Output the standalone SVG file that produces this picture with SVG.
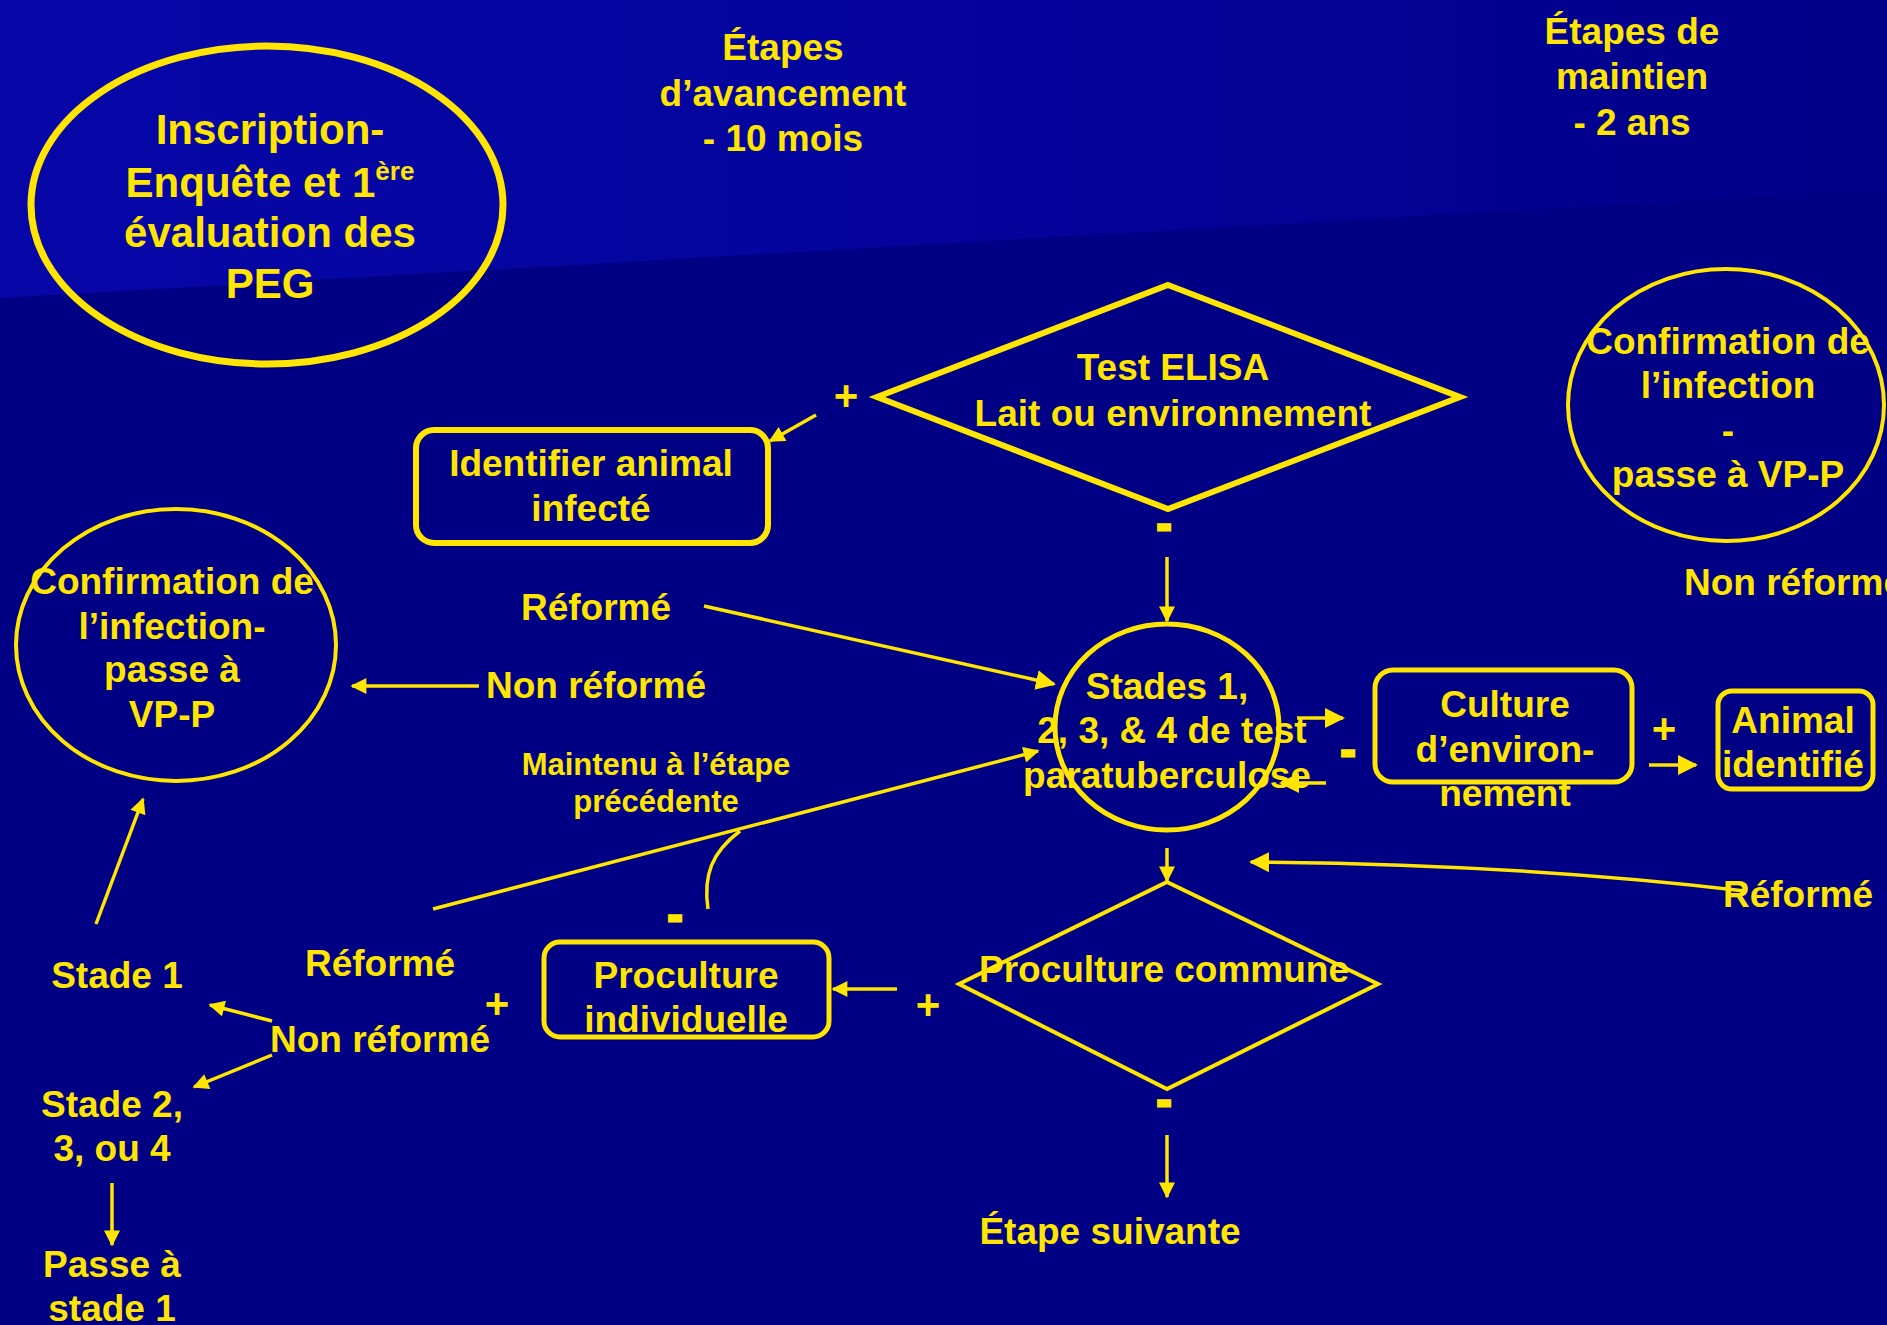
<svg xmlns="http://www.w3.org/2000/svg" width="1887" height="1325" viewBox="0 0 1887 1325">
<defs>
<linearGradient id="topg" x1="0" y1="0" x2="1" y2="0">
<stop offset="0" stop-color="#0707A8"/>
<stop offset="0.6" stop-color="#03039A"/>
<stop offset="1" stop-color="#000088"/>
</linearGradient>
<marker id="ah" viewBox="0 0 10 10" refX="9" refY="5" markerWidth="18" markerHeight="16" markerUnits="userSpaceOnUse" orient="auto">
<path d="M0,0 L10,5 L0,10 Z" fill="#FFE500"/>
</marker>
<marker id="ahb" viewBox="0 0 10 10" refX="9" refY="5" markerWidth="20" markerHeight="22" markerUnits="userSpaceOnUse" orient="auto">
<path d="M0,0 L10,5 L0,10 Z" fill="#FFE500"/>
</marker>
</defs>
<style>
text{font-family:"Liberation Sans",Arial,sans-serif;font-weight:bold;fill:#FFE500;text-anchor:middle;font-size:37px}
.big{font-size:42px}
.sm{font-size:31px}
.st{text-anchor:start}
.dash{font-size:44px;stroke:#FFE500;stroke-width:3}
.shape{fill:none;stroke:#FFE500}
.cn{fill:none;stroke:#FFE500;stroke-width:3.5}
</style>
<rect x="0" y="0" width="1887" height="1325" fill="#000084"/>
<path d="M0,0 H1887 V189 L0,298 Z" fill="url(#topg)"/>

<g id="titles">
<text x="783" y="60">Étapes</text>
<text x="783" y="106">d’avancement</text>
<text x="783" y="151">- 10 mois</text>
<text x="1632" y="44">Étapes de</text>
<text x="1632" y="89">maintien</text>
<text x="1632" y="135">- 2 ans</text>
</g>

<g id="inscription">
<ellipse class="shape" cx="267" cy="205" rx="236" ry="159" stroke-width="7"/>
<text class="big" x="270" y="144">Inscription-</text>
<text class="big" x="270" y="197">Enquête et 1<tspan font-size="26" dy="-17">ère</tspan></text>
<text class="big" x="270" y="247">évaluation des</text>
<text class="big" x="270" y="298">PEG</text>
</g>

<g id="elisa">
<polygon class="shape" points="1168,285 1460,397 1168,509 877,397" stroke-width="6"/>
<text x="1173" y="380">Test ELISA</text>
<text x="1173" y="426">Lait ou environnement</text>
</g>

<g id="identifier">
<rect class="shape" x="416" y="430" width="352" height="113" rx="18" stroke-width="6"/>
<text x="591" y="476">Identifier animal</text>
<text x="591" y="521">infecté</text>
</g>

<g id="stades">
<ellipse class="shape" cx="1167" cy="727" rx="112" ry="103" stroke-width="5"/>
<text x="1167" y="699">Stades 1,</text>
<text x="1172" y="743">2, 3, &amp; 4 de test</text>
<text x="1167" y="788">paratuberculose</text>
</g>

<g id="culture">
<rect class="shape" x="1375" y="670" width="257" height="112" rx="18" stroke-width="5"/>
<text x="1505" y="717">Culture</text>
<text x="1505" y="762">d’environ-</text>
<text x="1505" y="806">nement</text>
</g>

<g id="animal">
<rect class="shape" x="1718" y="691" width="155" height="98" rx="14" stroke-width="5"/>
<text x="1793" y="733">Animal</text>
<text x="1793" y="777">identifié</text>
</g>

<g id="confirmation-right">
<ellipse class="shape" cx="1726" cy="405" rx="158" ry="136" stroke-width="4"/>
<text x="1728" y="354">Confirmation de</text>
<text x="1728" y="398">l’infection</text>
<text x="1728" y="443">-</text>
<text x="1728" y="487">passe à VP-P</text>
</g>

<g id="proculture-commune">
<polygon class="shape" points="1167,882 1378,984 1167,1089 959,984" stroke-width="4"/>
<text x="1164" y="982">Proculture commune</text>
</g>

<g id="proculture-individuelle">
<rect class="shape" x="544" y="942" width="285" height="95" rx="16" stroke-width="5"/>
<text x="686" y="988">Proculture</text>
<text x="686" y="1032">individuelle</text>
</g>

<g id="confirmation-left">
<ellipse class="shape" cx="176" cy="645" rx="160" ry="136" stroke-width="4"/>
<text x="172" y="594">Confirmation de</text>
<text x="172" y="639">l’infection-</text>
<text x="172" y="682">passe à</text>
<text x="172" y="727">VP-P</text>
</g>

<g id="labels">
<text x="1684" y="595" class="st">Non réformé</text>
<text x="1798" y="907">Réformé</text>
<text x="1110" y="1244">Étape suivante</text>
<text class="sm" x="656" y="775">Maintenu à l’étape</text>
<text class="sm" x="656" y="812">précédente</text>
<text x="596" y="620">Réformé</text>
<text x="596" y="698">Non réformé</text>
<text x="117" y="988">Stade 1</text>
<text x="380" y="976">Réformé</text>
<text x="380" y="1052">Non réformé</text>
<text x="112" y="1117">Stade 2,</text>
<text x="112" y="1161">3, ou 4</text>
<text x="112" y="1277">Passe à</text>
<text x="112" y="1321">stade 1</text>
<text class="big" x="846" y="410">+</text>
<text class="big" x="1664" y="743">+</text>
<text class="big" x="928" y="1019">+</text>
<text class="big" x="497" y="1018">+</text>
<text class="dash" x="1164" y="539">-</text>
<text class="dash" x="1348" y="765">-</text>
<text class="dash" x="1164" y="1115">-</text>
<text class="dash" x="675" y="930">-</text>
</g>

<g id="connectors">
<line class="cn" x1="816" y1="415" x2="770" y2="441" stroke-width="5" marker-end="url(#ah)"/>
<line class="cn" x1="1167" y1="557" x2="1167" y2="621" stroke-width="4.5" marker-end="url(#ah)"/>
<line class="cn" x1="704" y1="606" x2="1054" y2="684" stroke-width="5" marker-end="url(#ahb)"/>
<line class="cn" x1="479" y1="686" x2="352" y2="686" marker-end="url(#ah)"/>
<line class="cn" x1="433" y1="909" x2="1038" y2="751" stroke-width="4" marker-end="url(#ah)"/>
<path class="cn" d="M708,909 C703,875 712,852 740,831"/>
<line class="cn" x1="1297" y1="718" x2="1343" y2="718" stroke-width="7" marker-end="url(#ahb)"/>
<line class="cn" x1="1326" y1="783" x2="1281" y2="783" stroke-width="7" marker-end="url(#ahb)"/>
<line class="cn" x1="1649" y1="765" x2="1696" y2="765" stroke-width="7" marker-end="url(#ahb)"/>
<path class="cn" d="M1745,891 Q1520,864 1251,862" stroke-width="5" marker-end="url(#ahb)"/>
<line class="cn" x1="1167" y1="848" x2="1167" y2="881" stroke-width="4" marker-end="url(#ah)"/>
<line class="cn" x1="897" y1="989" x2="833" y2="989" stroke-width="4" marker-end="url(#ah)"/>
<line class="cn" x1="1167" y1="1135" x2="1167" y2="1197" stroke-width="4" marker-end="url(#ah)"/>
<line class="cn" x1="96" y1="924" x2="143" y2="799" marker-end="url(#ah)"/>
<line class="cn" x1="272" y1="1021" x2="210" y2="1005" stroke-width="4" marker-end="url(#ah)"/>
<line class="cn" x1="272" y1="1055" x2="194" y2="1087" stroke-width="4" marker-end="url(#ah)"/>
<line class="cn" x1="112" y1="1183" x2="112" y2="1245" marker-end="url(#ah)"/>
</g>
</svg>
